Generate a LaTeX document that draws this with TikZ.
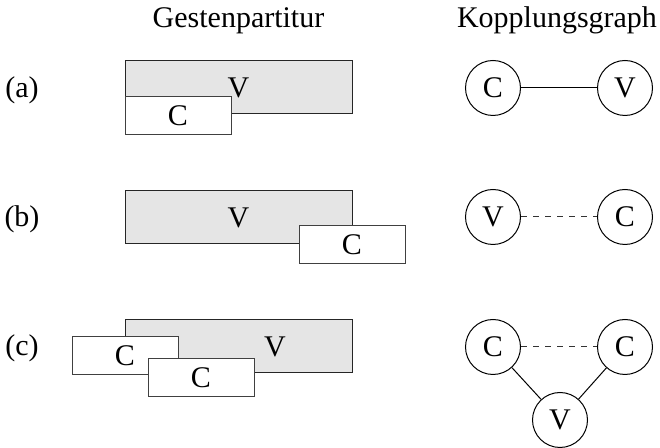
\documentclass[tikz,border=0pt]{standalone}
\usepackage{fontspec}
\setmainfont{Liberation Serif}
\begin{document}
\begin{tikzpicture}[x=.5pt,y=-.5pt,font=\fontsize{15}{18}\selectfont,
  vbox/.style={draw=black!85,fill=gray!20,line width=.5pt,minimum width=113.5pt,minimum height=26.5pt,inner sep=0pt},
  cbox/.style={draw=black!75,fill=white,line width=.5pt,minimum width=53pt,minimum height=19pt,inner sep=0pt},
  knot/.style={circle,draw,line width=.5pt,minimum size=27.5pt,inner sep=0pt},
  link/.style={line width=.5pt},
  weak/.style={link,dashed,draw=black!80}]
  \useasboundingbox (0,0) rectangle (660,448);
  % headings
  \node[anchor=base] (hscore) at (238.5,28) {Gestenpartitur};
  \node[anchor=base] (hgraph) at (557,28) {Kopplungsgraph};
  % row labels
  \node (la) at (22,90) {(a)};
  \node (lb) at (22,219) {(b)};
  \node (lc) at (22,348) {(c)};
  % (a) score
  \node[vbox] (sva) at (238.5,87.5) {V};
  \node[cbox] (sca) at (178,115.5) {C};
  % (b) score
  \node[vbox] (svb) at (238.5,217.5) {V};
  \node[cbox] (scb) at (352,245) {C};
  % (c) score
  \node[vbox] (svc) at (238.5,346.5) {};
  \node (tvc) at (275,346.5) {V};
  \node[cbox] (sc1) at (125,355.5) {C};
  \node[cbox] (sc2) at (201,378) {C};
  % (a) graph
  \node[knot] (ga1) at (493,88) {C};
  \node[knot] (ga2) at (625,88) {V};
  \draw[link] (ga1) -- (ga2);
  % (b) graph
  \node[knot] (gb1) at (493,217) {V};
  \node[knot] (gb2) at (625,217) {C};
  \draw[weak] (gb1) -- (gb2);
  % (c) graph
  \node[knot] (gc1) at (493,347) {C};
  \node[knot] (gc2) at (625,347) {C};
  \node[knot] (gc3) at (560,420) {V};
  \draw[weak] (gc1) -- (gc2);
  \draw[link] (gc1) -- (gc3);
  \draw[link] (gc2) -- (gc3);
\end{tikzpicture}
\end{document}
